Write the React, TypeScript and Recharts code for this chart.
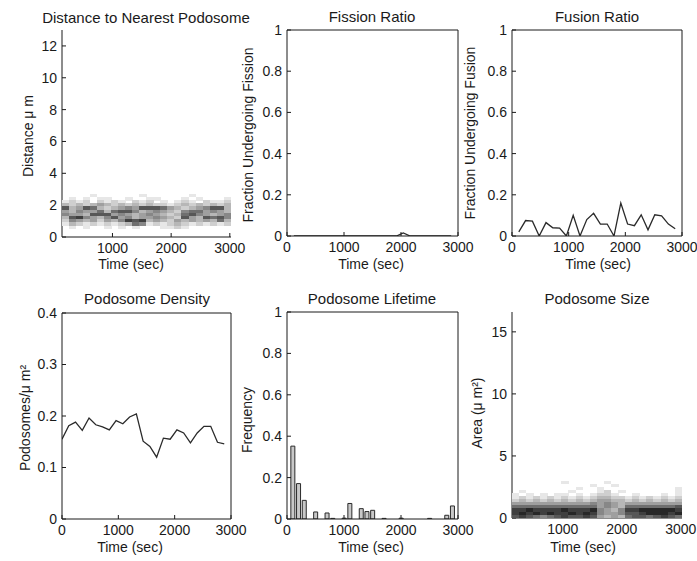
import React from 'react'
import { Bar, ComposedChart, Line, LineChart, Scatter, ScatterChart, XAxis, YAxis } from 'recharts'

const font = '"Liberation Sans", Arial, Helvetica, sans-serif'
const ink = '#1a1a1a'

// time samples (sec)
const fusionTimes = [120, 240, 360, 480, 600, 720, 840, 960, 1080, 1200, 1320, 1440, 1560, 1680, 1800, 1920, 2040, 2160, 2280, 2400, 2520, 2640, 2760, 2880]
const fissionValues = [0, 0, 0, 0, 0, 0, 0, 0, 0, 0, 0, 0, 0, 0, 0, 0, 0.015, 0, 0, 0, 0, 0, 0, 0]
const fusionValues = [0.02, 0.075, 0.072, 0, 0.065, 0.04, 0.038, 0, 0.1, 0, 0.08, 0.11, 0.058, 0.058, 0, 0.16, 0.058, 0.05, 0.103, 0.03, 0.103, 0.098, 0.058, 0.035]

const densityTimes = [0, 120, 240, 360, 480, 600, 720, 840, 960, 1080, 1200, 1320, 1440, 1560, 1680, 1800, 1920, 2040, 2160, 2280, 2400, 2520, 2640, 2760, 2880]
const densityValues = [0.155, 0.181, 0.188, 0.172, 0.196, 0.183, 0.179, 0.173, 0.191, 0.185, 0.198, 0.204, 0.151, 0.141, 0.12, 0.157, 0.155, 0.173, 0.167, 0.148, 0.167, 0.18, 0.18, 0.149, 0.146]

const lifetimeBins = [100, 200, 300, 400, 500, 600, 700, 800, 900, 1000, 1100, 1200, 1300, 1400, 1500, 1600, 1700, 1800, 1900, 2000, 2100, 2200, 2300, 2400, 2500, 2600, 2700, 2800, 2900]
const lifetimeFreq = [0.352, 0.171, 0.09, 0, 0.034, 0, 0.029, 0.003, 0, 0.004, 0.075, 0, 0.05, 0.036, 0.042, 0, 0.003, 0, 0, 0.004, 0, 0, 0, 0, 0.003, 0, 0, 0.018, 0.063]

// image columns (frame times) for the two histogram images
const frameTimes = [200, 320, 440, 560, 680, 800, 920, 1040, 1160, 1280, 1400, 1520, 1640, 1760, 1880, 2000, 2120, 2240, 2360, 2480, 2600, 2720, 2840, 2960]

// distance to nearest podosome: rows of grey level 0-9 (top row first)
const distanceBins = [2.6, 2.4, 2.2, 2.0, 1.8, 1.6, 1.4, 1.2, 1.0, 0.8, 0.6]
const distanceGrid = [
  '000010000001000000100000',
  '010101100100110001010001',
  '121202121021201012102112',
  '323234323232322123232323',
  '734763234547776432345773',
  '435446367753454325664543',
  '544377745434543236754345',
  '378543574534454327437675',
  '254342435878343243434363',
  '132121212365121232121212',
  '010100101010001121000000',
]

// podosome size: rows of grey level 0-9 (top row first)
const areaBins = [2.875, 2.625, 2.375, 2.125, 1.875, 1.625, 1.375, 1.125, 0.875, 0.625, 0.375, 0.125]
const areaGrid = [
  '000000010000010000000000',
  '000000000001001000000000',
  '000000000100100000000001',
  '010000001000120100000001',
  '101010110101221001000101',
  '121212121212332212121212',
  '232323232323443323232323',
  '444444444445454344444444',
  '666666666666454366666667',
  '889888898889543588999998',
  '898989889898544577899989',
  '787656787787434367767876',
]

const fissionData = fusionTimes.map((t, i) => ({ t, v: fissionValues[i] }))
const fusionData = fusionTimes.map((t, i) => ({ t, v: fusionValues[i] }))
const densityData = densityTimes.map((t, i) => ({ t, v: densityValues[i] }))
const lifetimeData = lifetimeBins.map((t, i) => ({ t, v: lifetimeFreq[i] }))

const toCells = (bins: number[], grid: string[]) =>
  bins.flatMap((d, r) => frameTimes.map((t, c) => ({ t, d, v: Number(grid[r][c] || 0) })))

const distanceCells = toCells(distanceBins, distanceGrid)
const areaCells = toCells(areaBins, areaGrid)

type Box = { x: number; y: number; w: number; h: number }
const ML = 50
const MT = 10
const MR = 26
const MB = 30

const tickStyle = { fontSize: 14, fill: ink, fontFamily: font }
const lineStroke = { stroke: ink, strokeWidth: 1 }

const place = (b: Box): React.CSSProperties => ({ position: 'absolute', left: b.x - ML, top: b.y - MT })

const Txt = ({ x, y, rot, size = 14, children }: { x: number; y: number; rot?: boolean; size?: number; children: React.ReactNode }) => (
  <div
    style={{
      position: 'absolute',
      left: x,
      top: y,
      transform: `translate(-50%, -50%)${rot ? ' rotate(-90deg)' : ''}`,
      whiteSpace: 'nowrap',
      fontSize: size,
      fontFamily: font,
      color: ink,
      lineHeight: 1,
    }}
  >
    {children}
  </div>
)

const axisX = (domain: number[], ticks: number[]) => (
  <XAxis
    dataKey="t"
    type="number"
    domain={domain}
    ticks={ticks}
    interval={0}
    allowDataOverflow
    height={MB}
    tickSize={-4}
    tickMargin={10}
    tick={tickStyle}
    axisLine={lineStroke}
    tickLine={lineStroke}
  />
)

const axisY = (dataKey: string, domain: number[], ticks: number[]) => (
  <YAxis
    dataKey={dataKey}
    type="number"
    domain={domain}
    ticks={ticks}
    interval={0}
    allowDataOverflow
    width={ML}
    tickSize={-4}
    tickMargin={9}
    tick={tickStyle}
    axisLine={lineStroke}
    tickLine={lineStroke}
  />
)

// top and right edges of the box, with inward ticks
const mirrors = (xDomain: number[], xTicks: number[], yDomain: number[], yTicks: number[]) => [
  <XAxis
    key="top"
    xAxisId="top"
    orientation="top"
    dataKey="t"
    type="number"
    domain={xDomain}
    ticks={xTicks}
    interval={0}
    allowDataOverflow
    height={1}
    tickSize={-4}
    tick={false}
    axisLine={lineStroke}
    tickLine={lineStroke}
  />,
  <YAxis
    key="right"
    yAxisId="right"
    orientation="right"
    dataKey="v"
    type="number"
    domain={yDomain}
    ticks={yTicks}
    interval={0}
    allowDataOverflow
    width={1}
    tickSize={-4}
    tick={false}
    axisLine={lineStroke}
    tickLine={lineStroke}
  />,
  <Line key="ghost" xAxisId="top" yAxisId="right" dataKey="v" stroke="none" dot={false} activeDot={false} isAnimationActive={false} />,
]

const boxMargin = { top: MT - 1, right: MR - 1, bottom: 0, left: 0 }

const ratioTicks = [0, 0.2, 0.4, 0.6, 0.8, 1]
const timeTicks = [0, 1000, 2000, 3000]

const LinePanel = ({ box, data, yDomain, yTicks }: { box: Box; data: { t: number; v: number }[]; yDomain: number[]; yTicks: number[] }) => (
  <div style={place(box)}>
    <LineChart width={box.w + ML + MR} height={box.h + MT + MB} data={data} margin={boxMargin}>
      {axisX([0, 3000], timeTicks)}
      {axisY('v', yDomain, yTicks)}
      {mirrors([0, 3000], timeTicks, yDomain, yTicks)}
      <Line dataKey="v" type="linear" stroke="#2a2a2a" strokeWidth={1.3} dot={false} isAnimationActive={false} />
    </LineChart>
  </div>
)

const heatShape = (w: number, h: number) => (props: any) => {
  const { cx, cy, payload } = props
  if (!payload || !payload.v) return <g />
  const g = 255 - payload.v * 24
  return <rect x={cx - w / 2} y={cy - h / 2} width={w} height={h} fill={`rgb(${g},${g},${g})`} shapeRendering="crispEdges" />
}

const HeatPanel = ({ box, cells, yDomain, yTicks, rowStep }: { box: Box; cells: { t: number; d: number; v: number }[]; yDomain: number[]; yTicks: number[]; rowStep: number }) => {
  const xDomain = [140, 3020]
  const cw = (box.w * 120) / (xDomain[1] - xDomain[0]) + 0.5
  const ch = (box.h * rowStep) / (yDomain[1] - yDomain[0]) + 0.5
  return (
    <div style={place(box)}>
      <ScatterChart width={box.w + ML + MR} height={box.h + MT + MB} margin={{ top: MT, right: MR, bottom: 0, left: 0 }}>
        {axisX(xDomain, [1000, 2000, 3000])}
        {axisY('d', yDomain, yTicks)}
        <Scatter data={cells} dataKey="d" shape={heatShape(cw, ch)} isAnimationActive={false} />
      </ScatterChart>
    </div>
  )
}

const P1: Box = { x: 62, y: 30, w: 169, h: 207 }
const P2: Box = { x: 287, y: 30, w: 171, h: 206 }
const P3: Box = { x: 512, y: 30, w: 170, h: 206 }
const P4: Box = { x: 62, y: 313, w: 169, h: 206 }
const P5: Box = { x: 287, y: 312, w: 171, h: 207 }
const P6: Box = { x: 512, y: 312, w: 170, h: 206 }

export default function App() {
  return (
    <div style={{ position: 'absolute', left: 0, top: 0, width: 697, height: 561, background: '#fff', overflow: 'hidden' }}>
      <HeatPanel box={P1} cells={distanceCells} yDomain={[0, 13]} yTicks={[0, 2, 4, 6, 8, 10, 12]} rowStep={0.2} />
      <LinePanel box={P2} data={fissionData} yDomain={[0, 1]} yTicks={ratioTicks} />
      <LinePanel box={P3} data={fusionData} yDomain={[0, 1]} yTicks={ratioTicks} />
      <LinePanel box={P4} data={densityData} yDomain={[0, 0.4]} yTicks={[0, 0.1, 0.2, 0.3, 0.4]} />
      <div style={place(P5)}>
        <ComposedChart width={P5.w + ML + MR} height={P5.h + MT + MB} data={lifetimeData} margin={boxMargin}>
          {axisX([0, 3000], timeTicks)}
          {axisY('v', [0, 1], ratioTicks)}
          {mirrors([0, 3000], timeTicks, [0, 1], ratioTicks)}
          <Bar dataKey="v" barSize={4} fill="#c8c8c8" stroke="#2a2a2a" strokeWidth={1} isAnimationActive={false} />
        </ComposedChart>
      </div>
      <HeatPanel box={P6} cells={areaCells} yDomain={[0, 16.6]} yTicks={[0, 5, 10, 15]} rowStep={0.25} />

      <Txt x={146} y={17} size={15}>Distance to Nearest Podosome</Txt>
      <Txt x={372} y={16} size={15}>Fission Ratio</Txt>
      <Txt x={597} y={16} size={15}>Fusion Ratio</Txt>
      <Txt x={147} y={298} size={15}>Podosome Density</Txt>
      <Txt x={372} y={298} size={15}>Podosome Lifetime</Txt>
      <Txt x={597} y={298} size={15}>Podosome Size</Txt>

      <Txt x={131} y={264}>Time (sec)</Txt>
      <Txt x={371} y={264}>Time (sec)</Txt>
      <Txt x={598} y={264}>Time (sec)</Txt>
      <Txt x={130} y={547}>Time (sec)</Txt>
      <Txt x={371} y={547}>Time (sec)</Txt>
      <Txt x={583} y={547}>Time (sec)</Txt>

      <Txt x={28} y={136} rot>Distance μ m</Txt>
      <Txt x={248} y={135} rot>Fraction Undergoing Fission</Txt>
      <Txt x={470} y={133} rot>Fraction Undergoing Fusion</Txt>
      <Txt x={25} y={418} rot>Podosomes/μ m²</Txt>
      <Txt x={247} y={420} rot>Frequency</Txt>
      <Txt x={477} y={413} rot>Area (μ m²)</Txt>
    </div>
  )
}
